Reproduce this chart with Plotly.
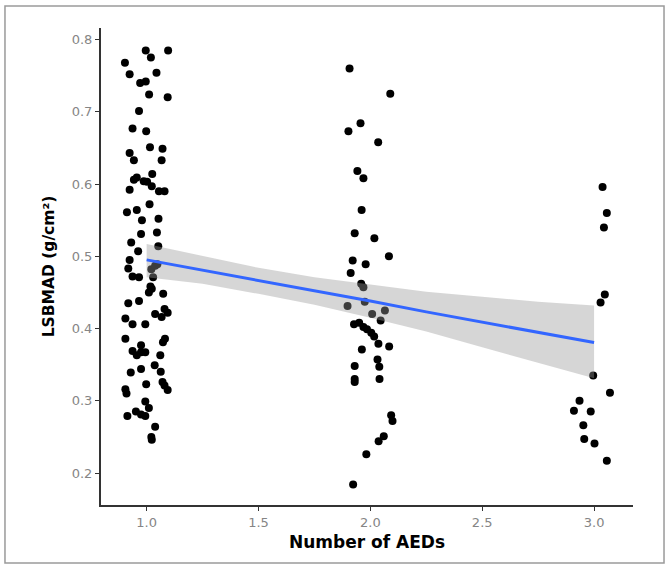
import plotly.graph_objects as go

# Jittered scatter points (Number of AEDs, LSBMAD)
x_g1 = [0.903, 0.924, 0.996, 1.019, 1.096, 1.044, 0.971, 0.996, 1.011, 1.094,
        0.966, 0.937, 0.998, 0.924, 1.015, 1.071, 0.943, 1.067, 0.956, 0.943,
        0.987, 1.002, 1.025, 1.023, 0.924, 1.055, 1.080, 0.912, 0.956, 1.013,
        0.979, 1.053, 0.975, 1.046, 0.931, 1.052, 0.962, 0.924, 0.918, 1.021,
        0.937, 0.966, 1.029, 1.038, 1.048, 1.017, 1.023, 1.010, 1.074, 0.918,
        0.966, 1.080, 1.038, 1.067, 1.094, 0.905, 0.937, 0.994, 0.905, 1.082,
        1.073, 0.975, 0.937, 0.956, 0.975, 0.994, 1.061, 0.929, 0.975, 1.036,
        1.063, 0.998, 1.071, 1.080, 1.094, 0.905, 0.910, 0.994, 1.010, 0.952,
        0.914, 0.975, 0.994, 1.038, 1.021, 1.023]
y_g1 = [0.768, 0.752, 0.785, 0.775, 0.785, 0.754, 0.740, 0.742, 0.724, 0.720,
        0.701, 0.677, 0.673, 0.643, 0.651, 0.649, 0.633, 0.633, 0.609, 0.606,
        0.604, 0.603, 0.614, 0.597, 0.592, 0.590, 0.590, 0.561, 0.564, 0.572,
        0.550, 0.552, 0.531, 0.533, 0.519, 0.514, 0.507, 0.495, 0.483, 0.482,
        0.472, 0.471, 0.471, 0.487, 0.489, 0.458, 0.455, 0.450, 0.448, 0.435,
        0.438, 0.427, 0.420, 0.416, 0.422, 0.414, 0.406, 0.406, 0.386, 0.386,
        0.381, 0.377, 0.369, 0.363, 0.367, 0.367, 0.363, 0.339, 0.344, 0.349,
        0.340, 0.323, 0.326, 0.321, 0.315, 0.316, 0.310, 0.299, 0.290, 0.285,
        0.279, 0.281, 0.279, 0.264, 0.250, 0.246]

x_g2 = [1.907, 2.089, 1.902, 1.956, 2.035, 1.942, 1.969, 1.961, 1.930, 2.018,
        2.083, 1.921, 1.979, 1.912, 1.959, 1.969, 1.975, 1.898, 2.065, 2.008,
        2.046, 1.927, 1.950, 1.969, 1.985, 2.004, 2.017, 2.036, 2.084, 1.962,
        2.032, 2.040, 1.930, 1.930, 1.930, 2.041, 2.093, 2.099, 2.060, 2.037,
        1.982, 1.923]
y_g2 = [0.760, 0.725, 0.673, 0.684, 0.658, 0.618, 0.608, 0.564, 0.532, 0.525,
        0.500, 0.494, 0.489, 0.477, 0.462, 0.457, 0.437, 0.431, 0.425, 0.420,
        0.411, 0.406, 0.408, 0.402, 0.399, 0.394, 0.389, 0.379, 0.375, 0.371,
        0.357, 0.347, 0.348, 0.330, 0.326, 0.330, 0.280, 0.272, 0.251, 0.244,
        0.226, 0.184]

x_g3 = [3.038, 3.057, 3.044, 3.048, 3.029, 2.996, 3.071, 2.935, 2.910, 2.985,
        2.952, 2.956, 3.002, 3.057]
y_g3 = [0.596, 0.560, 0.540, 0.447, 0.436, 0.335, 0.311, 0.300, 0.286, 0.285,
        0.266, 0.247, 0.241, 0.217]

# Linear fit and 95% confidence band
fit_x = [1.0, 1.25, 1.5, 1.75, 2.0, 2.25, 2.5, 2.75, 3.0]
fit_y = [0.495, 0.481, 0.466, 0.452, 0.438, 0.423, 0.409, 0.395, 0.3805]
band_upper = [0.517, 0.500, 0.484, 0.471, 0.461, 0.451, 0.444, 0.437, 0.432]
band_lower = [0.471, 0.462, 0.448, 0.433, 0.415, 0.396, 0.374, 0.353, 0.331]

x_ticks = [1.0, 1.5, 2.0, 2.5, 3.0]
x_tick_labels = ["1.0", "1.5", "2.0", "2.5", "3.0"]
y_ticks = [0.2, 0.3, 0.4, 0.5, 0.6, 0.7, 0.8]
y_tick_labels = ["0.2", "0.3", "0.4", "0.5", "0.6", "0.7", "0.8"]

xs = x_g1 + x_g2 + x_g3
ys = y_g1 + y_g2 + y_g3

fig = go.Figure()
fig.add_trace(go.Scatter(x=xs, y=ys, mode="markers",
                         marker=dict(color="black", size=8),
                         showlegend=False, hoverinfo="skip"))
fig.add_trace(go.Scatter(x=fit_x, y=band_lower, mode="lines",
                         line=dict(width=0), showlegend=False, hoverinfo="skip"))
fig.add_trace(go.Scatter(x=fit_x, y=band_upper, mode="lines",
                         line=dict(width=0), fill="tonexty",
                         fillcolor="rgba(153,153,153,0.4)",
                         showlegend=False, hoverinfo="skip"))
fig.add_trace(go.Scatter(x=fit_x, y=fit_y, mode="lines",
                         line=dict(color="#3366FF", width=3),
                         showlegend=False, hoverinfo="skip"))

tick_font = dict(family="DejaVu Sans", size=13, color="#858585")
fig.update_layout(
    width=670, height=566,
    margin=dict(l=101, r=37, t=28, b=61),
    paper_bgcolor="white", plot_bgcolor="white",
    xaxis=dict(range=[0.796, 3.174], tickvals=x_ticks, ticktext=x_tick_labels,
               showgrid=False, zeroline=False, showline=True,
               linecolor="#333333", linewidth=2,
               ticks="outside", ticklen=4, tickcolor="#333333", tickwidth=1,
               tickfont=tick_font,
               title=dict(text="Number of AEDs", standoff=8,
                          font=dict(family="DejaVu Sans", size=17, color="black",
                                    weight="bold"))),
    yaxis=dict(range=[0.1557, 0.816], tickvals=y_ticks, ticktext=y_tick_labels,
               showgrid=False, zeroline=False, showline=True,
               linecolor="#333333", linewidth=2,
               ticks="outside", ticklen=4, tickcolor="#333333", tickwidth=1,
               tickfont=tick_font,
               title=dict(text="LSBMAD (g/cm²)", standoff=13,
                          font=dict(family="DejaVu Sans", size=15.5, color="black",
                                    weight="bold"))),
    shapes=[dict(type="rect", xref="paper", yref="paper",
                 x0=-0.1805, x1=1.0583, y0=-0.1216, y1=1.0461,
                 line=dict(color="#9a9a9a", width=1.5), layer="below")],
)

fig.write_html("out.html",
               config={"displayModeBar": False},
               post_script="document.body.style.margin='0';document.body.style.overflow='hidden';")
